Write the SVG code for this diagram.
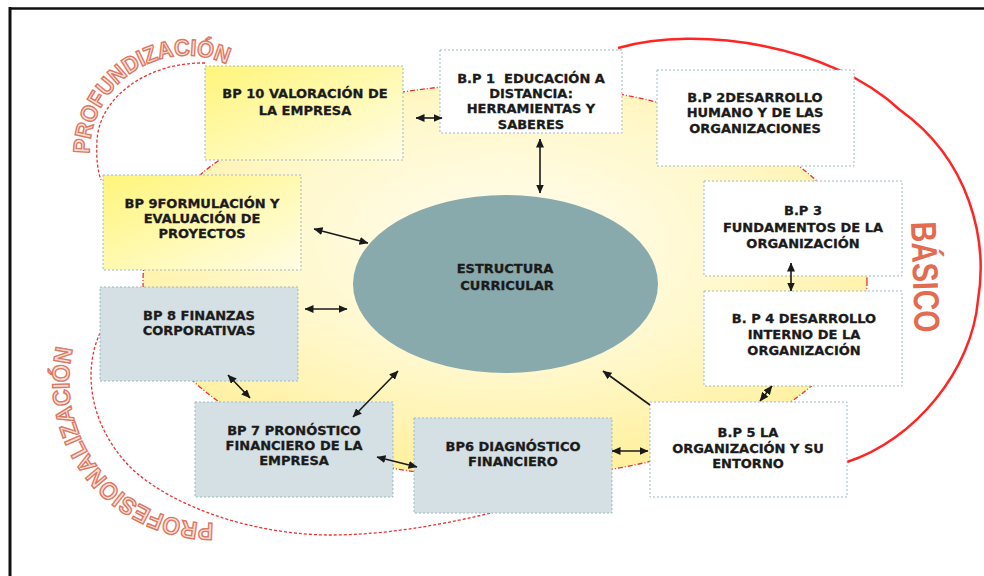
<svg xmlns="http://www.w3.org/2000/svg" width="984" height="576" viewBox="0 0 984 576">
<style>
.box{stroke:#9fb9c2;stroke-width:1;stroke-dasharray:2 2}
.white{fill:#ffffff}
.gray{fill:#d4e0e3}
.yel{fill:url(#yelBox)}
.lbl{font-family:"DejaVu Sans",sans-serif;font-weight:bold;font-size:13px;fill:#1b1b1b;stroke:#1b1b1b;stroke-width:0.3;text-anchor:middle;white-space:pre}
.con{stroke:#1a1a1a;stroke-width:1.6;fill:none}
.dbl{marker-start:url(#ah);marker-end:url(#ah)}
.sgl{marker-end:url(#ah)}
.arcd{fill:none;stroke:#ee3030;stroke-width:1.3;stroke-dasharray:3 2}
.word{font-family:"Liberation Sans",Arial,sans-serif;font-weight:bold;fill:#fbe0d6;stroke:#de7763;stroke-width:1.4}
</style>
<defs>
<radialGradient id="bigYel" cx="0.5" cy="0.4" r="0.6">
<stop offset="0" stop-color="#fffdf0"/>
<stop offset="0.55" stop-color="#fff8cc"/>
<stop offset="1" stop-color="#fff09c"/>
</radialGradient>
<linearGradient id="yelBox" x1="0" y1="0" x2="1" y2="1">
<stop offset="0" stop-color="#fff57a"/>
<stop offset="1" stop-color="#fffde6"/>
</linearGradient>
<marker id="ah" viewBox="0 0 9 8" refX="8.5" refY="4" markerWidth="9" markerHeight="8" markerUnits="userSpaceOnUse" orient="auto-start-reverse">
<path d="M0,0 L9,4 L0,8 z" fill="#1a1a1a"/>
</marker>
<path id="tpProf" d="M89.6,156.8 A97.5,97.5 0 0 1 235.75,68.6"/>
<path id="tpPros" d="M218.4,522.8 A142,142 0 0 1 75.2,339.5"/>
</defs>

<g id="frame">
<line x1="9" y1="8.5" x2="984" y2="8.5" stroke="#111" stroke-width="2.5"/>
<line x1="10" y1="7" x2="10" y2="576" stroke="#111" stroke-width="3"/>
</g>

<g id="areas">
<ellipse cx="505" cy="281" rx="362" ry="197" fill="url(#bigYel)" stroke="#ee3030" stroke-width="1.3" stroke-dasharray="5 2 1 2"/>
<path class="arcd" d="M205,63 C150,62 100,95 97,140 C96,160 98,172 101,180"/>
<path class="arcd" d="M100,333 C85,365 85,420 130,467 C175,510 260,535 330,535 C390,535 450,523 495,512"/>
<path d="M618,48 C700,25 830,45 900,110 C970,160 988,240 978,300 C972,370 915,440 847,462" fill="none" stroke="#ff2525" stroke-width="2.5"/>
<text class="word" font-size="23"><textPath href="#tpProf" startOffset="3" textLength="195" lengthAdjust="spacingAndGlyphs">PROFUNDIZACIÓN</textPath></text>
<text class="word" font-size="24"><textPath href="#tpPros" startOffset="5" textLength="258" lengthAdjust="spacingAndGlyphs">PROFESIONALIZACIÓN</textPath></text>
<text transform="translate(911,222) rotate(88)" font-family="'Liberation Sans',Arial,sans-serif" font-weight="bold" font-size="36" fill="#e36b50" textLength="111" lengthAdjust="spacingAndGlyphs">BÁSICO</text>
</g>

<g id="center">
<ellipse cx="505.5" cy="284" rx="152.5" ry="89" fill="#88aaac"/>
<text class="lbl" x="505" y="273">ESTRUCTURA</text>
<text class="lbl" x="507" y="290">CURRICULAR</text>
</g>

<g id="bp1">
<rect class="box white" x="440" y="50" width="182" height="83"/>
<text class="lbl" x="531" y="83">B.P 1  EDUCACIÓN A</text>
<text class="lbl" x="531" y="98">DISTANCIA:</text>
<text class="lbl" x="531" y="113">HERRAMIENTAS Y</text>
<text class="lbl" x="531" y="129">SABERES</text>
</g>
<g id="bp2">
<rect class="box white" x="657" y="70" width="197" height="96"/>
<text class="lbl" x="755" y="102">B.P 2DESARROLLO</text>
<text class="lbl" x="755" y="117">HUMANO Y DE LAS</text>
<text class="lbl" x="755" y="133">ORGANIZACIONES</text>
</g>
<g id="bp3">
<rect class="box white" x="704" y="181" width="198" height="95"/>
<text class="lbl" x="803" y="215">B.P 3</text>
<text class="lbl" x="803" y="232">FUNDAMENTOS DE LA</text>
<text class="lbl" x="803" y="248">ORGANIZACIÓN</text>
</g>
<g id="bp4">
<rect class="box white" x="704" y="291" width="198" height="95"/>
<text class="lbl" x="804" y="323">B. P 4 DESARROLLO</text>
<text class="lbl" x="804" y="339">INTERNO DE LA</text>
<text class="lbl" x="804" y="355">ORGANIZACIÓN</text>
</g>
<g id="bp5">
<rect class="box white" x="650" y="402" width="197" height="95"/>
<text class="lbl" x="748" y="437">B.P 5 LA</text>
<text class="lbl" x="748" y="453">ORGANIZACIÓN Y SU</text>
<text class="lbl" x="748" y="468">ENTORNO</text>
</g>
<g id="bp6">
<rect class="box gray" x="414" y="418" width="198" height="95"/>
<text class="lbl" x="513" y="451">BP6 DIAGNÓSTICO</text>
<text class="lbl" x="513" y="466">FINANCIERO</text>
</g>
<g id="bp7">
<rect class="box gray" x="195" y="402" width="198" height="95"/>
<text class="lbl" x="294" y="435">BP 7 PRONÓSTICO</text>
<text class="lbl" x="294" y="450">FINANCIERO DE LA</text>
<text class="lbl" x="294" y="465">EMPRESA</text>
</g>
<g id="bp8">
<rect class="box gray" x="100" y="287" width="198" height="94"/>
<text class="lbl" x="199" y="320">BP 8 FINANZAS</text>
<text class="lbl" x="199" y="335">CORPORATIVAS</text>
</g>
<g id="bp9">
<rect class="box yel" x="103" y="175" width="198" height="95"/>
<text class="lbl" x="202" y="208">BP 9FORMULACIÓN Y</text>
<text class="lbl" x="202" y="223">EVALUACIÓN DE</text>
<text class="lbl" x="202" y="238">PROYECTOS</text>
</g>
<g id="bp10">
<rect class="box yel" x="205" y="66" width="198" height="94"/>
<text class="lbl" x="305" y="98">BP 10 VALORACIÓN DE</text>
<text class="lbl" x="305" y="115">LA EMPRESA</text>
</g>

<g id="connectors">
<line class="con dbl" x1="442" y1="118" x2="416" y2="118"/>
<line class="con dbl" x1="540" y1="139" x2="540" y2="193"/>
<line class="con dbl" x1="314" y1="229" x2="368" y2="243"/>
<line class="con dbl" x1="305" y1="309" x2="347" y2="309"/>
<line class="con dbl" x1="228" y1="375" x2="250" y2="398"/>
<line class="con dbl" x1="353" y1="417" x2="398" y2="371"/>
<line class="con dbl" x1="377" y1="457" x2="417" y2="467"/>
<line class="con dbl" x1="612" y1="451" x2="648" y2="451"/>
<line class="con sgl" x1="650" y1="405" x2="603" y2="371"/>
<line class="con dbl" x1="791" y1="263" x2="791" y2="291"/>
<line class="con dbl" x1="772" y1="386" x2="760" y2="401"/>
</g>
</svg>
